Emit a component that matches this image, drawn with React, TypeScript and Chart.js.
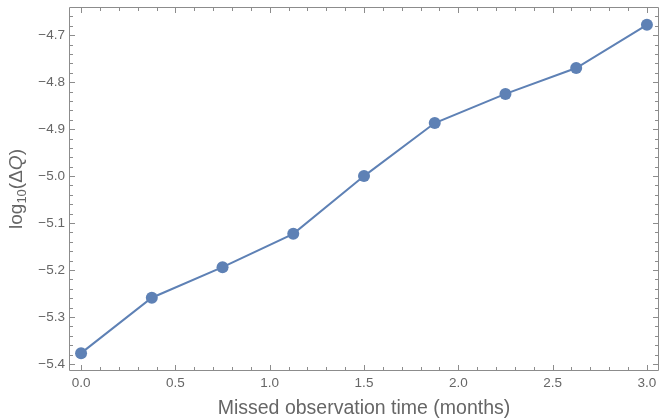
import React, { useEffect, useRef } from 'react';
import { Chart, registerables } from 'chart.js';

Chart.register(...registerables);

// ---- data ----
const xValues = [0, 0.375, 0.75, 1.125, 1.5, 1.875, 2.25, 2.625, 3.0];
const yValues = [-5.377, -5.259, -5.194, -5.123, -5.0, -4.887, -4.825, -4.77, -4.678];
const xTicks = [0, 0.5, 1.0, 1.5, 2.0, 2.5, 3.0];
const yTicks = [-5.4, -5.3, -5.2, -5.1, -5.0, -4.9, -4.8, -4.7];
const xTitle = 'Missed observation time (months)';
const yTitleParts = ['log', '10', '(Δ', 'Q', ')'];

const X_MIN = -0.064;
const X_MAX = 3.064;
const Y_MIN = -5.415;
const Y_MAX = -4.64;
const X_MINOR = 0.1;
const Y_MINOR = 0.02;

const FONT = "'Liberation Sans', Arial, sans-serif";
const TEXT = '#666666';
const FRAME = '#8c8c8c';
const LINE = '#5E81B5';

const fmt = (v: number) => (v < 0 ? '\u2212' : '') + Math.abs(v).toFixed(1);

const isMult = (v: number, step: number) => Math.abs(v / step - Math.round(v / step)) < 1e-6;

const framePlugin = {
  id: 'frameTicks',
  beforeDatasetsDraw(chart: any) {
    const { ctx, chartArea } = chart;
    const { left, right, top, bottom } = chartArea;
    const xs = chart.scales.x;
    const ys = chart.scales.y;
    ctx.save();
    ctx.strokeStyle = FRAME;
    ctx.lineWidth = 1;
    ctx.beginPath();
    ctx.rect(left + 0.5, top + 0.5, right - left - 1, bottom - top - 1);
    ctx.stroke();
    const nx = Math.round((X_MAX - X_MIN) / X_MINOR) + 2;
    for (let i = -1; i < nx; i++) {
      const v = Math.round((Math.ceil(X_MIN / X_MINOR) + i) * X_MINOR * 1000) / 1000;
      if (v < X_MIN || v > X_MAX) continue;
      const major = isMult(v, 0.5);
      const len = major ? 5 : 3;
      const px = Math.round(xs.getPixelForValue(v)) + 0.5;
      ctx.beginPath();
      ctx.moveTo(px, bottom - 1);
      ctx.lineTo(px, bottom - 1 - len);
      ctx.moveTo(px, top + 1);
      ctx.lineTo(px, top + 1 + len);
      ctx.stroke();
    }
    const ny = Math.round((Y_MAX - Y_MIN) / Y_MINOR) + 2;
    for (let i = -1; i < ny; i++) {
      const v = Math.round((Math.ceil(Y_MIN / Y_MINOR) + i) * Y_MINOR * 1000) / 1000;
      if (v < Y_MIN || v > Y_MAX) continue;
      const major = isMult(v, 0.1);
      const len = major ? 5 : 3;
      const py = Math.round(ys.getPixelForValue(v)) + 0.5;
      ctx.beginPath();
      ctx.moveTo(left + 1, py);
      ctx.lineTo(left + 1 + len, py);
      ctx.moveTo(right - 1, py);
      ctx.lineTo(right - 1 - len, py);
      ctx.stroke();
    }
    ctx.restore();
  },
  afterDraw(chart: any) {
    const { ctx, chartArea } = chart;
    const { left, right, top, bottom } = chartArea;
    ctx.save();
    ctx.fillStyle = TEXT;
    ctx.font = `19.5px ${FONT}`;
    ctx.textAlign = 'center';
    ctx.textBaseline = 'alphabetic';
    ctx.fillText(xTitle, (left + right) / 2, 414);
    const big = `19px ${FONT}`;
    const small = `13px ${FONT}`;
    const ital = `italic 19px ${FONT}`;
    const fonts = [big, small, big, ital, big];
    const offs = [0, 4, 0, 0, 0];
    const widths = yTitleParts.map((t, i) => {
      ctx.font = fonts[i];
      return ctx.measureText(t).width;
    });
    const total = widths.reduce((a, b) => a + b, 0);
    ctx.translate(22, (top + bottom) / 2);
    ctx.rotate(-Math.PI / 2);
    ctx.textAlign = 'left';
    let cx = -total / 2;
    yTitleParts.forEach((t, i) => {
      ctx.font = fonts[i];
      ctx.fillText(t, cx, offs[i]);
      cx += widths[i];
    });
    ctx.restore();
  },
};

export default function App() {
  const ref = useRef<HTMLCanvasElement | null>(null);
  useEffect(() => {
    document.body.style.margin = '0';
    const canvas = ref.current;
    if (!canvas) return;
    const chart = new Chart(canvas, {
      type: 'line',
      data: {
        datasets: [
          {
            data: xValues.map((x, i) => ({ x, y: yValues[i] })),
            borderColor: LINE,
            backgroundColor: LINE,
            borderWidth: 2,
            pointRadius: 6,
            pointBackgroundColor: LINE,
            pointBorderWidth: 0,
            tension: 0,
            fill: false,
            clip: false as any,
          },
        ],
      },
      options: {
        responsive: false,
        animation: false,
        devicePixelRatio: 1,
        layout: { padding: { top: 7, right: 8, left: 0, bottom: 0 } },
        plugins: { legend: { display: false }, tooltip: { enabled: false } },
        scales: {
          x: {
            type: 'linear',
            min: X_MIN,
            max: X_MAX,
            grid: { display: false, drawTicks: false },
            border: { display: false },
            afterBuildTicks: (s: any) => {
              s.ticks = xTicks.map((v) => ({ value: v }));
            },
            afterFit: (s: any) => {
              s.height = 48;
              s.paddingLeft = 0;
              s.paddingRight = 0;
            },
            ticks: {
              padding: 4,
              autoSkip: false,
              maxRotation: 0,
              color: TEXT,
              font: { family: FONT, size: 13.5 },
              callback: (v: any) => fmt(Number(v)),
            },
          },
          y: {
            type: 'linear',
            min: Y_MIN,
            max: Y_MAX,
            grid: { display: false, drawTicks: false },
            border: { display: false },
            afterBuildTicks: (s: any) => {
              s.ticks = yTicks.map((v) => ({ value: v }));
            },
            afterFit: (s: any) => {
              s.width = 69;
              s.paddingTop = 0;
              s.paddingBottom = 0;
            },
            ticks: {
              padding: 4,
              autoSkip: false,
              color: TEXT,
              font: { family: FONT, size: 13.5 },
              callback: (v: any) => fmt(Number(v)),
            },
          },
        },
      } as any,
      plugins: [framePlugin],
    });
    return () => chart.destroy();
  }, []);
  return <canvas ref={ref} width={667} height={419} style={{ display: 'block', width: 667, height: 419 }} />;
}
